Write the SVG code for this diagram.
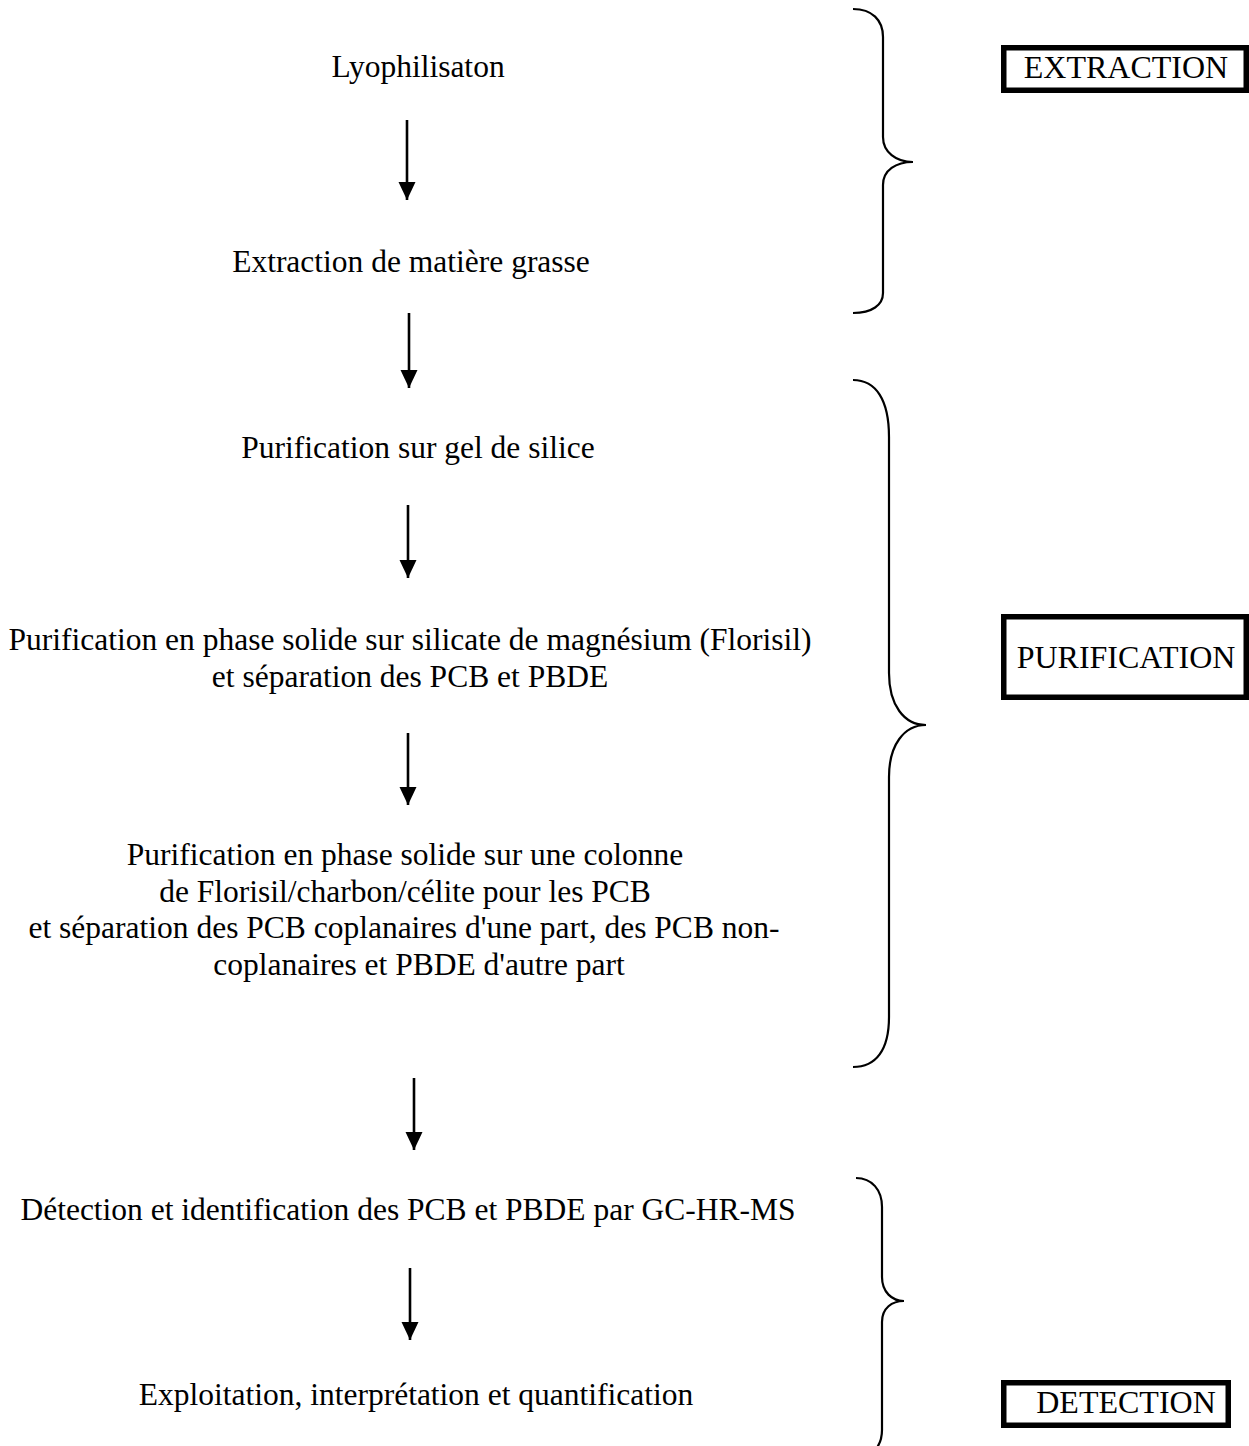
<svg xmlns="http://www.w3.org/2000/svg" width="1249" height="1446" viewBox="0 0 1249 1446">
<style>
  text { font-family: "Liberation Serif", "Times New Roman", serif; font-size: 31.5px; fill: #000; text-anchor: middle; }
  .lbl { font-size: 32px; }
  .box { fill: #fff; stroke: #000; stroke-width: 5.5; }
  .brace { fill: none; stroke: #000; stroke-width: 2.2; }
  .arrow { fill: none; stroke: #000; stroke-width: 2.6; marker-end: url(#head); }
</style>
<defs>
  <marker id="head" markerUnits="userSpaceOnUse" markerWidth="19" markerHeight="19" viewBox="0 0 19 19" refX="18" refY="9.5" orient="auto">
    <path d="M0,1 L18,9.5 L0,18 Z" fill="#000"/>
  </marker>
</defs>
<rect width="1249" height="1446" fill="#fff"/>

<g id="connectors">
  <line class="arrow" x1="407" y1="120" x2="407" y2="200"/>
  <line class="arrow" x1="409" y1="313" x2="409" y2="388"/>
  <line class="arrow" x1="408" y1="505" x2="408" y2="578"/>
  <line class="arrow" x1="408" y1="733" x2="408" y2="805"/>
  <line class="arrow" x1="414" y1="1078" x2="414" y2="1150"/>
  <line class="arrow" x1="410" y1="1268" x2="410" y2="1340"/>
</g>

<g id="braces">
  <path id="brace-extraction" class="brace" d="M853,9 C872,9 883,20 883,37 L883,137 C883,152 896,162 913,162 C896,162 883,170 883,185 L883,293 C883,305 872,313 853,313"/>
  <path id="brace-purification" class="brace" d="M853,380 C876,380 889,400 889,437 L889,673 C889,705 904,725 926,725 C904,725 889,745 889,777 L889,1017 C889,1050 876,1067 853,1067"/>
  <path id="brace-detection" class="brace" d="M856,1178 C872,1178 882,1190 882,1207 L882,1277 C882,1292 892,1301 904,1301 C892,1301 882,1308 882,1322 L882,1430 C882,1446 872,1458 856,1460"/>
</g>

<g id="node-lyophilisation"><text x="418" y="77">Lyophilisaton</text></g>
<g id="node-extraction-mg"><text x="411" y="272">Extraction de matière grasse</text></g>
<g id="node-gel-silice"><text x="418" y="458">Purification sur gel de silice</text></g>
<g id="node-florisil">
  <text x="410" y="650">Purification en phase solide sur silicate de magnésium (Florisil)</text>
  <text x="410" y="687">et séparation des PCB et PBDE</text>
</g>
<g id="node-colonne">
  <text x="405" y="865">Purification en phase solide sur une colonne</text>
  <text x="405" y="902">de Florisil/charbon/célite pour les PCB</text>
  <text x="404" y="938">et séparation des PCB coplanaires d'une part, des PCB non-</text>
  <text x="419" y="975">coplanaires et PBDE d'autre part</text>
</g>
<g id="node-detection"><text x="408" y="1220">Détection et identification des PCB et PBDE par GC-HR-MS</text></g>
<g id="node-exploitation"><text x="416" y="1405">Exploitation, interprétation et quantification</text></g>

<g id="label-extraction">
  <rect class="box" x="1003.75" y="47.75" width="242.5" height="42.5"/>
  <text class="lbl" x="1126" y="77.5">EXTRACTION</text>
</g>
<g id="label-purification">
  <rect class="box" x="1003.75" y="616.75" width="242.5" height="80.5"/>
  <text class="lbl" x="1126" y="668">PURIFICATION</text>
</g>
<g id="label-detection">
  <rect class="box" x="1003.75" y="1382.75" width="224.5" height="42.5"/>
  <text class="lbl" x="1126" y="1413">DETECTION</text>
</g>
</svg>
